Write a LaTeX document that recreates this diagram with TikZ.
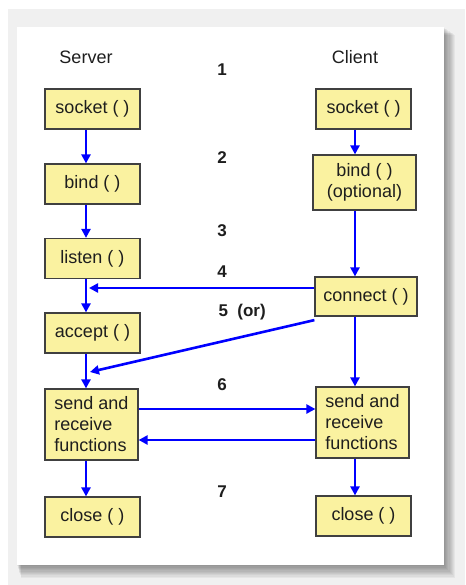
\documentclass[tikz,border=0pt]{standalone}
\usepackage{fontspec}
\setmainfont{Liberation Sans}
\usetikzlibrary{arrows.meta}
\definecolor{boxfill}{RGB}{250,242,160}
\definecolor{pagegray}{RGB}{240,240,240}
\definecolor{txt}{RGB}{30,30,30}
\begin{document}
\begin{tikzpicture}
		[x=1pt,y=-1pt,
		 fn/.style= {draw=black!75,line width=1.2pt,fill=boxfill,text=txt,inner sep=2pt,
		   font=\fontsize{18}{21}\selectfont,minimum width=95pt,minimum height=40pt},
		 lbl/.style= {text=txt,font=\fontsize{18}{21}\selectfont},
		 num/.style= {text=txt,font=\fontsize{17}{21}\selectfont\bfseries},
		 arr/.style= {blue,line width=2.6pt,-{Triangle[length=9pt,width=9pt]}}]

		\useasboundingbox (0,0) rectangle (465,585);
		\fill[pagegray] (8,9) rectangle (465,585);
		\foreach \i in {1,...,10}
			\fill[black,opacity=0.045] (17+\i*0.4,27+\i*0.8) rectangle (444+\i*1.1,565+\i*1.3);
		\fill[white] (17,27) rectangle (444,565);

		\coordinate (sx) at (86,0);
		\coordinate (cx) at (355,0);

		\node[lbl] (server) at (86,57) {Server};
		\node[lbl] (client) at (355,57) {Client};

		\node[fn] (ssock) at (92.5,109) {socket ( )};
		\node[fn] (csock) at (363.5,109) {socket ( )};
		\node[fn] (sbind) at (92.5,184) {bind ( )};
		\node[fn,minimum width=103pt,minimum height=55pt,align=center] (cbind) at (364.5,182.5) {bind ( )\\(optional)};
		\node[fn] (slisten) at (92.5,258.5) {listen ( )};
		\node[fn,minimum width=102pt,minimum height=39pt] (cconn) at (366,296.5) {connect ( )};
		\node[fn] (saccept) at (92.5,333) {accept ( )};
		\node[fn,minimum width=93pt,minimum height=71pt,align=left] (ssend) at (91.5,424.5) {send and\\receive\\functions};
		\node[fn,minimum width=93pt,minimum height=71pt,align=left] (csend) at (362.5,422.5) {send and\\receive\\functions};
		\node[fn] (sclose) at (92.5,517) {close ( )};
		\node[fn] (cclose) at (363.5,516) {close ( )};

		\node[num] (n1) at (222,70) {1};
		\node[num] (n2) at (222,158) {2};
		\node[num] (n3) at (222,231) {3};
		\node[num] (n4) at (222,272) {4};
		\node[num,anchor=west] (n5) at (215,312) {5 \ (or)};
		\node[num] (n6) at (222,385) {6};
		\node[num] (n7) at (222,492) {7};

		% server side
		\draw[arr] (ssock.south -| sx) -- (sbind.north -| sx);
		\draw[arr] (sbind.south -| sx) -- (slisten.north -| sx);
		\draw[arr] (slisten.south -| sx) -- (saccept.north -| sx);
		\draw[arr] (saccept.south -| sx) -- (ssend.north -| sx);
		\draw[arr] (ssend.south -| sx) -- (sclose.north -| sx);

		% client side
		\draw[arr] (csock.south -| cx) -- (cbind.north -| cx);
		\draw[arr] (cbind.south -| cx) -- (cconn.north -| cx);
		\draw[arr] (cconn.south -| cx) -- (csend.north -| cx);
		\draw[arr] (csend.south -| cx) -- (cclose.north -| cx);

		% between the two
		\coordinate (t4) at (89,288);
		\coordinate (t5) at (90,372);
		\coordinate (y6a) at (0,409);
		\coordinate (y6b) at (0,440);
		\draw[arr] (cconn.west |- t4) -- (t4);
		\draw[arr] ([yshift=-3.5pt]cconn.south west) -- (t5);
		\draw[arr] (ssend.east |- y6a) -- (csend.west |- y6a);
		\draw[arr] (csend.west |- y6b) -- (ssend.east |- y6b);

	\end{tikzpicture}
\end{document}
